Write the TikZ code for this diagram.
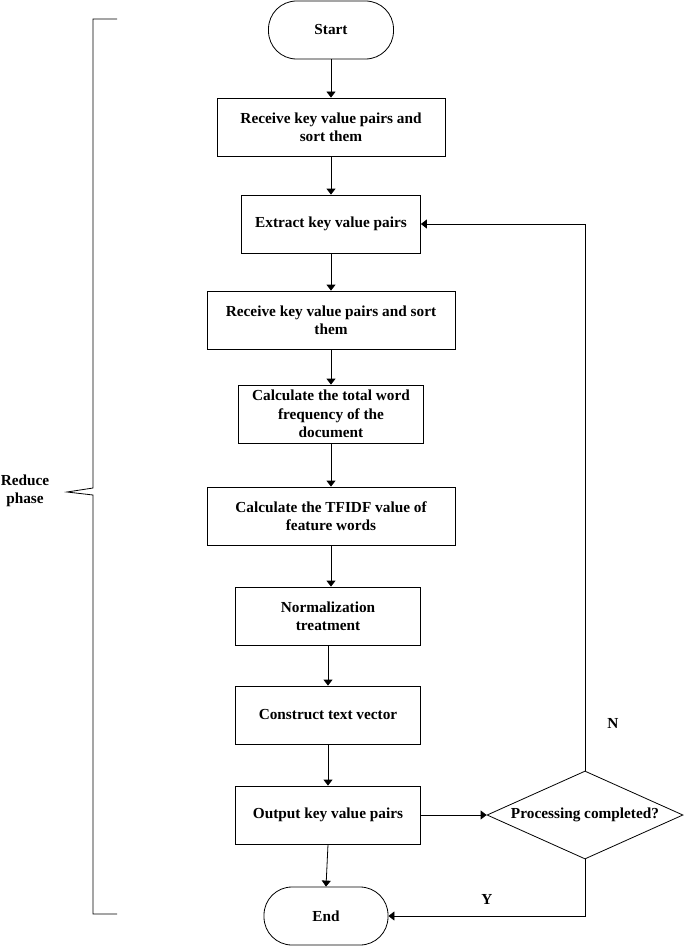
\documentclass[tikz,border=0pt]{standalone}
\usepackage{fontspec}
\setmainfont{Liberation Serif}
\usetikzlibrary{shapes.geometric,arrows.meta}

\begin{document}
\begin{tikzpicture}
	[x=1pt, y=-1pt, line width=0.8pt,
	every node/.style={font=\fontsize{15.3}{18.3}\selectfont\bfseries},
	block/.style ={rectangle, draw, align=center, inner sep=2pt, minimum height=58pt},
	term/.style ={rectangle, rounded corners=28pt, draw, minimum width=125pt, minimum height=58pt},
	decide/.style ={diamond, draw, aspect=2.2, inner sep=0pt, minimum width=196pt, minimum height=88pt},
	arr/.style ={-{Triangle[length=6pt,width=9pt]}}]
	\useasboundingbox (0,0) rectangle (685,947);
	% main column
	\node[term] (start) at (331,30) {Start};
	\node[block, minimum width=228pt] (b1) at (331,127) {Receive key value pairs and\\sort them};
	\node[block, minimum width=179pt] (b2) at (331,224) {Extract key value pairs};
	\node[block, minimum width=248pt] (b3) at (331,320) {Receive key value pairs and sort\\them};
	\node[block, minimum width=185pt] (b4) at (331,414) {Calculate the total word\\frequency of the\\document};
	\node[block, minimum width=248pt] (b5) at (331,516) {Calculate the TFIDF value of\\feature words};
	\node[block, minimum width=185pt] (b6) at (328,616) {Normalization\\treatment};
	\node[block, minimum width=185pt] (b7) at (328,715) {Construct text vector};
	\node[block, minimum width=185pt] (b8) at (328,815) {Output key value pairs};
	\node[term, minimum width=124pt] (end) at (326,916) {End};
	\node[decide] (dia) at (585,815) {Processing completed?};
	\node (lN) at (613,723) {N};
	\node (lY) at (487,899) {Y};
	% arrows
	\draw[arr] (start) -- (start |- b1.north);
	\draw[arr] (b1) -- (b1 |- b2.north);
	\draw[arr] (b2) -- (b2 |- b3.north);
	\draw[arr] (b3) -- (b3 |- b4.north);
	\draw[arr] (b4) -- (b4 |- b5.north);
	\draw[arr] (b5.south) -- (b5.south |- b6.north);
	\draw[arr] (b6) -- (b6 |- b7.north);
	\draw[arr] (b7) -- (b7 |- b8.north);
	\draw[arr] (b8.south) -- (end.north);
	\draw[arr] (b8) -- (dia);
	\draw[arr] (dia.north) -- (dia.north |- b2) -- (b2.east);
	\draw[arr] (dia.south) |- (end.east);
	% brace
	\draw (117,19) -- (93,19) -- (93,488) -- (67,492) -- (93,495) -- (93,914) -- (117,914);
	\node[align=center] (phase) at (25,491) {Reduce\\phase};
\end{tikzpicture}
\end{document}
